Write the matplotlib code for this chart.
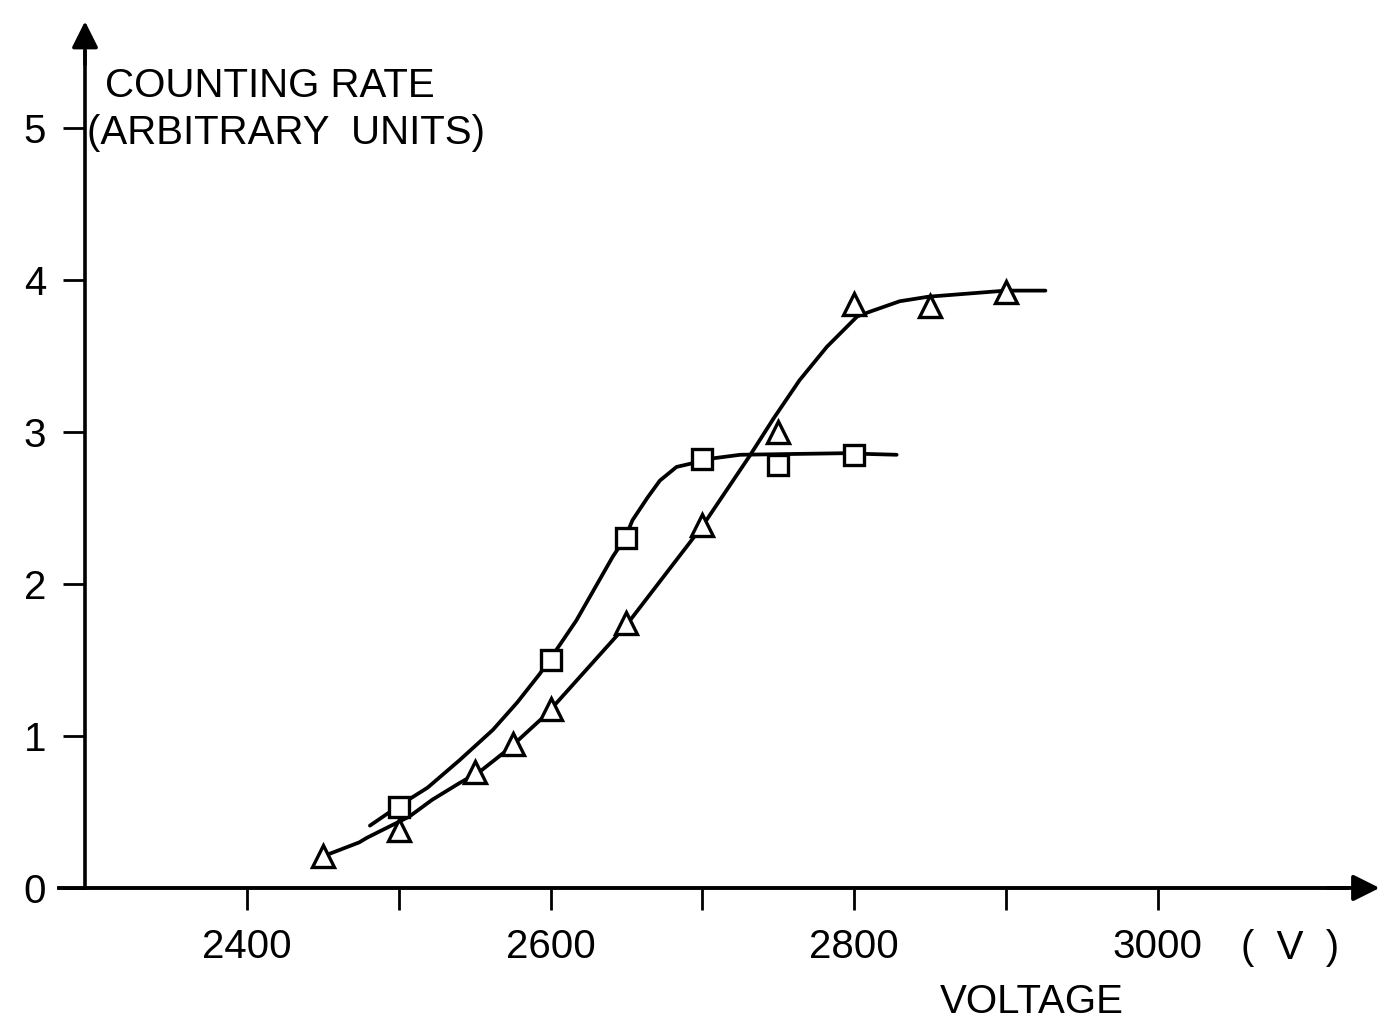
import matplotlib
matplotlib.use("Agg")
import matplotlib.pyplot as plt

# measured points (voltage in V, counting rate in arbitrary units)
sq_v = [2500, 2600, 2650, 2700, 2750, 2800]
sq_rate = [0.53, 1.50, 2.30, 2.82, 2.78, 2.85]

tri_v = [2450, 2500, 2550, 2575, 2600, 2650, 2700, 2750, 2800, 2850, 2900]
tri_rate = [0.21, 0.38, 0.76, 0.95, 1.18, 1.74, 2.39, 3.00, 3.84, 3.83, 3.92]

# hand drawn curves
sq_curve_v = [2481, 2500, 2519, 2540, 2562, 2578, 2593, 2600, 2617, 2641, 2649,
              2654, 2664, 2672, 2683, 2696, 2702, 2725, 2792, 2828]
sq_curve_rate = [0.41, 0.54, 0.66, 0.84, 1.04, 1.22, 1.41, 1.51, 1.76, 2.18, 2.30,
                 2.42, 2.57, 2.68, 2.77, 2.80, 2.82, 2.85, 2.86, 2.85]

tri_curve_v = [2448, 2474, 2479, 2507, 2522, 2540, 2554, 2573, 2597, 2650, 2700,
               2731, 2747, 2764, 2782, 2793, 2802, 2810, 2830, 2849, 2900, 2926]
tri_curve_rate = [0.20, 0.30, 0.33, 0.47, 0.58, 0.69, 0.77, 0.92, 1.14, 1.73, 2.38,
                  2.84, 3.09, 3.34, 3.56, 3.67, 3.76, 3.79, 3.86, 3.89, 3.93, 3.93]

xticks = [2400, 2500, 2600, 2700, 2800, 2900, 3000]
xticklabels = ["2400", "", "2600", "", "2800", "", "3000"]
yticks = [0, 1, 2, 3, 4, 5]

font = ["Liberation Sans", "DejaVu Sans"]
plt.rcParams["font.family"] = font

fig = plt.figure(figsize=(13.83, 10.29), dpi=100)
ax = fig.add_axes([0, 0, 1, 1])
ax.set_xlim(2237.3, 3148.4)
ax.set_ylim(-0.928, 5.842)

y_axis_v = 2293.3

ax.plot(sq_curve_v, sq_curve_rate, color="black", lw=2.7, solid_capstyle="round",
        solid_joinstyle="round", zorder=2)
ax.plot(tri_curve_v, tri_curve_rate, color="black", lw=2.7, solid_capstyle="round",
        solid_joinstyle="round", zorder=2)
ax.plot(sq_v, sq_rate, ls="none", marker="s", ms=14, mfc="white", mec="black", mew=2.4, zorder=3)
ax.plot(tri_v, tri_rate, ls="none", marker="^", ms=16, mfc="white", mec="black", mew=2.4, zorder=3)

for s in ["top", "right"]:
    ax.spines[s].set_visible(False)
ax.spines["left"].set_position(("data", y_axis_v))
ax.spines["bottom"].set_position(("data", 0))
ax.spines["left"].set_bounds(0, 5.5)
ax.spines["bottom"].set_bounds(2276, 3125)
ax.spines["left"].set_linewidth(2.6)
ax.spines["bottom"].set_linewidth(2.8)

ax.set_xticks(xticks)
ax.set_xticklabels(xticklabels)
ax.set_yticks(yticks)
ax.tick_params(axis="x", direction="out", length=16, width=2, pad=13, labelsize=29)
ax.tick_params(axis="y", direction="out", length=16, width=2, pad=12, labelsize=29)

# arrow heads
ax.annotate("", xy=(y_axis_v, 5.72), xytext=(y_axis_v, 5.4),
            arrowprops=dict(arrowstyle="-|>", mutation_scale=40, color="black", lw=2.6))
ax.annotate("", xy=(3148, 0), xytext=(3110, 0),
            arrowprops=dict(arrowstyle="-|>", mutation_scale=40, color="black", lw=2.8))

fig.text(0.0759, 0.9164, "COUNTING RATE", fontsize=29, ha="left", va="center")
fig.text(0.0629, 0.8707, "(ARBITRARY  UNITS)", fontsize=29, ha="left", va="center")
fig.text(0.746, 0.026, "VOLTAGE", fontsize=29, ha="center", va="center")
fig.text(0.933, 0.079, "(  V  )", fontsize=29, ha="center", va="center")

fig.savefig("out.png", dpi=100, facecolor="white")
